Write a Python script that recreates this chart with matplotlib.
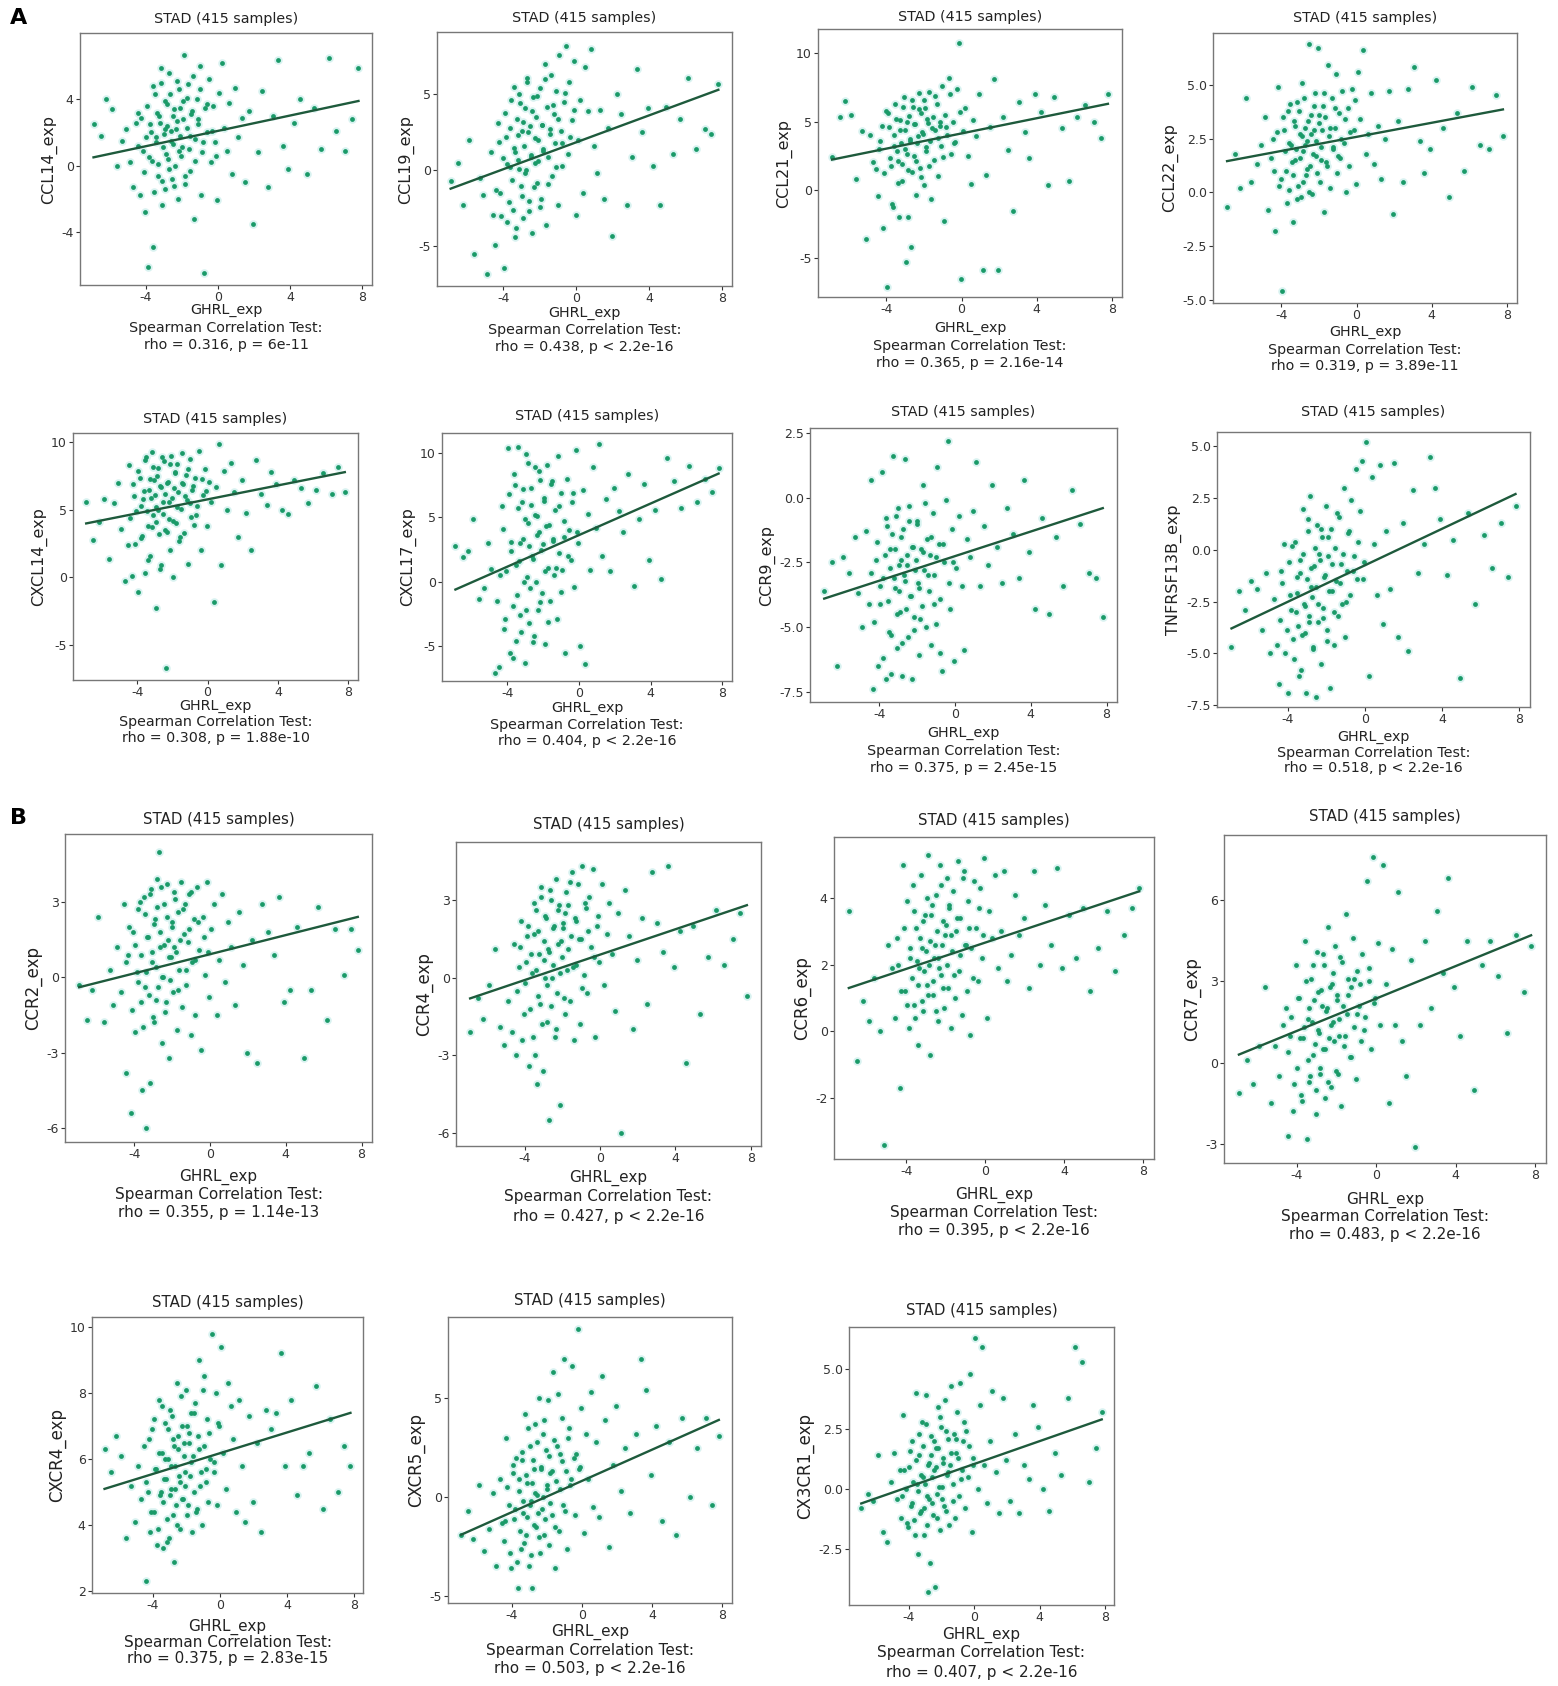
import matplotlib.pyplot as plt
import numpy as np

plt.rcParams['font.family'] = 'DejaVu Sans'
plt.rcParams['axes.unicode_minus'] = False

# GHRL expression (shared x for every panel, a readable subset of the 415 samples)
x_ghrl = [-6.9, -6.5, -6.2, -5.9, -5.6, -5.3, -5.1, -4.9, -4.7, -4.55,
          -4.45, -4.32, -4.18, -4.05, -3.97, -3.86, -3.78, -3.66, -3.58, -3.49,
          -3.41, -3.35, -3.27, -3.18, -3.12, -3.04, -2.96, -2.91, -2.83, -2.77,
          -2.69, -2.62, -2.55, -2.48, -2.41, -2.36, -2.28, -2.22, -2.15, -2.08,
          -2.02, -1.95, -1.88, -1.81, -1.74, -1.68, -1.61, -1.53, -1.47, -1.39,
          -1.32, -1.25, -1.17, -1.09, -1.02, -0.94, -0.86, -0.77, -0.69, -0.58,
          -0.47, -0.38, -0.26, -0.15, -0.04, 0.08, 0.21, 0.35, 0.48, 0.63,
          0.79, 0.95, 1.12, 1.31, 1.52, 1.74, 1.96, 2.21, 2.47, 2.76,
          3.05, 3.36, 3.62, 3.91, 4.23, 4.58, 4.94, 5.33, 5.72, 6.15,
          6.58, 7.05, 7.42, 7.8,
          -4.41, -4.26, -4.12, -3.93, -3.81, -3.71, -3.62, -3.53, -3.44, -3.38,
          -3.3, -3.22, -3.15, -3.08, -3.0, -2.93, -2.87, -2.8, -2.73, -2.66,
          -2.58, -2.51, -2.44, -2.32, -2.25, -2.18, -2.11, -1.98, -1.91, -1.84,
          -1.71, -1.57, -1.43, -1.28, -1.13, -0.98, -0.81, -0.63, -0.33, -0.1]

ccl14 = [2.5, 1.8, 4.0, 3.4, 0.0, 1.5, 2.2, 0.2, -1.3, 2.6,
         3.2, -1.8, 0.9, -2.8, 1.7, -6.1, 2.5, 0.3, -4.9, 4.3,
         1.4, -0.6, 3.0, 5.0, -2.4, 1.1, 2.2, -1.4, 3.7, 0.4,
         5.6, 2.1, -0.8, 1.3, 3.4, 0.0, 2.7, -2.0, 4.6, 1.8,
         0.6, 3.9, 6.7, -1.1, 2.3, 4.9, 1.0, -0.3, 3.1, 5.4,
         -3.2, 1.6, 4.0, 2.8, 6.0, -1.8, 0.8, -6.5, 3.5, 2.0,
         5.2, 0.2, 3.6, 1.4, -2.1, 4.4, 6.2, 2.3, 0.9, 3.8,
         -0.5, 4.7, 1.7, 2.9, -1.0, 3.3, -3.5, 0.8, 4.5, -1.3,
         3.0, 6.4, 1.2, -0.2, 2.6, 4.0, -0.5, 3.5, 1.0, 6.5,
         2.1, 0.9, 2.8, 5.9,
         1.2, 2.9, -0.4, 3.6, 0.5, 2.0, 4.8, -1.6, 1.7, 3.2,
         0.1, 2.6, 5.9, -0.9, 1.9, 3.9, 0.7, 2.4, -0.2, 4.3,
         1.5, 3.0, -1.2, 2.2, 5.1, 0.9, 3.5, 1.1, 2.8, -0.6,
         4.1, 1.8, 3.3, 0.3, 2.5, 4.6, 1.4, 3.7, 2.1, 0.6]
ccl19 = [-0.7, 0.5, -2.3, 2.0, -5.5, -0.5, -1.6, -6.8, 1.2, -2.9,
         -4.9, 3.1, -1.5, 0.8, -6.4, 2.2, -3.4, 0.2, 4.6, -2.6,
         1.5, -4.4, 3.4, 0.7, 5.0, -1.0, 2.6, -3.1, 4.1, 0.0,
         6.1, -2.0, 2.9, 1.0, -4.1, 4.8, 0.5, 3.5, -0.8, 2.0,
         5.4, -1.9, 3.0, 1.3, 7.0, -3.6, 4.2, 0.9, 2.4, 6.3,
         -0.4, 3.7, 1.8, 5.2, -2.3, 7.6, 2.6, 0.3, 4.5, 8.2,
         1.1, 5.8, 3.3, 7.2, -2.9, 2.0, 4.6, -1.5, 6.8, 3.9,
         8.0, 1.6, -0.2, 4.0, -1.9, 2.8, -4.3, 5.0, 3.7, -2.3,
         0.9, 6.7, 2.5, 4.1, 0.3, -2.3, 4.2, 1.1, 3.4, 6.1,
         1.4, 2.7, 2.4, 5.7,
         -1.3, 1.9, -3.0, 3.8, 0.4, -2.1, 2.8, -0.6, 5.5, 1.2,
         -3.8, 2.3, 0.1, 4.4, -1.7, 3.2, 1.6, -0.2, 5.8, 2.5,
         -2.7, 0.9, 3.9, -1.1, 2.1, 4.9, 0.6, -2.4, 3.0, 1.4,
         6.0, -0.9, 2.7, 4.3, 0.2, 3.4, 1.8, 5.1, 2.2, 4.0]
ccl21 = [2.4, 5.3, 6.5, 5.5, 0.8, 4.3, -3.6, 4.0, 2.0, 1.5,
         -0.5, 3.6, -2.8, 5.8, -7.2, 4.6, 1.7, -1.3, 3.2, 5.2,
         2.1, -2.0, 4.4, 0.6, 6.1, 3.0, -5.3, 5.0, 1.4, 3.7,
         -4.2, 6.6, 2.5, 4.8, -0.4, 3.4, 7.1, 1.6, 5.6, 4.1,
         0.3, 6.0, 2.8, 4.9, 7.2, 3.6, -0.7, 5.3, 2.2, 4.4,
         6.3, 1.0, 4.7, 3.2, 7.6, -2.3, 5.5, 4.0, 8.2, 2.6,
         5.0, 3.4, 7.4, 10.8, -6.6, 4.3, 6.0, 2.5, 0.4, 5.1,
         3.9, 7.0, -5.9, 1.1, 4.6, 8.1, -5.9, 5.3, 2.9, -1.6,
         6.4, 4.2, 2.3, 7.0, 5.7, 0.3, 6.8, 4.5, 0.6, 5.3,
         6.2, 5.0, 3.8, 7.0,
         3.0, 4.7, 1.2, 5.6, 2.3, -1.1, 4.0, 6.3, 2.8, 0.5,
         5.1, 3.4, 1.9, 6.8, 4.4, 2.6, -2.0, 5.4, 3.6, 1.3,
         6.1, 4.8, 2.1, 3.9, 5.9, 0.9, 4.2, 6.6, 3.1, 5.2,
         1.7, 4.5, 6.9, 3.8, 5.0, 2.4, 4.6, 7.0, 3.5, 5.7]
ccl22 = [-0.7, 1.8, 0.2, 4.4, 0.5, 1.3, 2.2, 3.5, -0.8, 1.6,
         2.5, -1.8, 4.9, 0.6, -4.6, 2.9, 1.0, 3.8, 0.1, 2.2,
         -1.4, 3.3, 1.5, 4.2, 0.3, 2.7, -0.2, 5.1, 1.9, 3.0,
         0.8, 2.4, 6.9, 1.2, 3.6, -0.1, 2.9, 4.6, 1.7, 6.7,
         3.2, 0.5, 2.1, 4.0, -0.9, 3.5, 1.4, 5.9, 2.6, 0.2,
         4.4, 2.0, 3.0, 5.5, 0.9, 3.7, 1.6, 4.7, 2.3, 0.0,
         3.9, 1.2, 4.8, 2.9, 0.4, 5.6, 3.4, 6.6, 1.8, 2.7,
         4.6, 1.3, 3.1, 0.6, 2.5, 4.7, -1.0, 3.3, 0.5, 4.8,
         5.8, 2.4, 0.9, 2.0, 5.2, 3.0, -0.2, 3.7, 1.0, 4.9,
         2.2, 2.0, 4.5, 2.6,
         1.0, 2.8, 0.3, 3.5, 1.9, -0.5, 2.3, 4.1, 1.4, 0.8,
         3.1, 2.0, -0.3, 3.8, 1.6, 2.6, 0.5, 4.4, 2.2, 1.1,
         3.3, 0.0, 2.7, 1.8, 4.0, 2.4, 0.9, 3.6, 1.5, 2.9,
         4.6, 1.2, 3.0, 2.1, 3.9, 1.7, 2.5, 3.4, 2.8, 4.3]
cxcl14 = [5.6, 2.8, 4.1, 5.8, 1.4, 5.5, 7.0, 3.6, -0.3, 2.4,
          8.3, 0.1, 6.0, 4.9, -1.1, 7.4, 2.9, 5.8, 0.3, 8.9,
          3.8, 6.5, 1.6, 9.3, 4.6, 7.2, -2.3, 5.2, 8.1, 3.2,
          6.8, 0.9, 5.6, 8.6, 3.5, -6.7, 7.0, 4.3, 2.0, 9.0,
          5.9, 0.0, 7.7, 4.0, 8.4, 6.3, 2.7, 5.1, 9.2, 6.9,
          3.3, 7.6, 5.7, 1.0, 8.8, 4.5, 6.5, 3.9, 7.4, 5.3,
          9.4, 2.0, 6.1, 8.0, 3.8, 7.1, 5.6, -1.8, 6.7, 9.9,
          0.9, 7.9, 5.0, 8.5, 6.3, 3.0, 7.2, 4.8, 2.0, 8.7,
          6.2, 5.4, 7.8, 6.9, 5.0, 4.7, 7.2, 6.6, 5.5, 6.5,
          7.7, 6.2, 8.2, 6.3,
          4.4, 6.9, 2.5, 7.9, 5.3, 3.1, 6.4, 8.7, 4.9, 1.3,
          7.3, 5.9, 3.7, 8.2, 6.1, 4.1, 7.5, 5.0, 0.6, 6.7,
          8.9, 4.7, 6.2, 3.4, 7.1, 5.6, 8.4, 4.2, 6.6, 7.8,
          5.2, 3.0, 7.0, 6.0, 8.0, 5.5, 6.8, 4.6, 7.3, 6.4]
cxcl17 = [2.8, 1.9, 2.4, 4.9, -1.3, -0.5, 3.0, 1.0, -7.1, -1.5,
          -6.6, 5.9, -3.7, 0.8, 10.4, -5.5, 3.1, -1.9, 7.5, -4.6,
          10.5, 1.6, -2.6, 6.2, 3.3, -6.3, 9.9, 0.4, 4.6, -3.2,
          7.3, 2.0, -4.7, 8.9, 0.0, 5.1, -2.2, 3.9, 7.9, -0.9,
          2.9, 6.3, -4.8, 9.1, 1.1, 4.4, -1.5, 7.8, 3.2, 0.5,
          5.6, -2.9, 9.8, 2.2, 6.9, 0.9, 3.5, -5.5, 8.0, 4.0,
          1.7, 6.2, -0.4, 10.2, 3.0, -5.0, 7.1, -6.4, 5.3, 0.9,
          8.9, 4.2, 10.7, 2.0, 6.4, 0.8, 7.3, 5.5, 3.9, 8.4,
          -0.3, 4.9, 7.6, 1.7, 5.6, 0.2, 9.6, 7.8, 5.7, 9.0,
          6.2, 8.0, 7.0, 8.8,
          0.5, 4.1, -2.9, 6.8, 2.4, -5.9, 8.4, 1.3, -1.0, 5.7,
          3.0, -3.9, 7.2, 0.0, 4.9, -2.2, 9.2, 2.8, -0.5, 6.0,
          1.8, -4.2, 5.2, 3.6, 8.6, -1.6, 2.5, 6.5, 0.8, 4.3,
          -3.1, 7.6, 3.3, 1.1, 5.9, -0.8, 4.7, 2.0, 6.9, 3.9]
ccr9 = [-3.6, -2.5, -6.5, -2.3, -2.9, -1.5, -3.7, -5.0, -1.3, -4.1,
        0.7, -7.4, -2.4, -6.5, -4.1, 1.0, -3.1, -7.0, -1.1, -5.2,
        -2.0, -6.8, 1.6, -3.5, -0.7, -5.8, -2.6, -4.4, -1.5, -6.9,
        -3.0, 1.5, -2.2, -5.4, -0.3, -3.8, -7.0, -1.9, -4.6, -2.4,
        -0.9, -3.3, -6.1, -2.0, -4.2, 0.5, -2.8, -5.0, -1.6, -3.6,
        -2.2, -5.7, -0.6, -3.0, -4.9, 1.2, -1.8, -3.9, -6.7, -2.5,
        -0.1, 2.2, -4.3, -1.2, -6.3, -2.7, -0.7, -3.4, -5.9, -1.6,
        -2.3, -0.5, 1.4, -3.4, -1.1, -2.6, 0.5, -1.9, -3.3, -0.4,
        -1.4, -3.1, 0.7, -2.1, -4.3, -0.8, -4.5, -1.5, -3.4, 0.3,
        -1.0, -2.9, -3.1, -4.6,
        -2.9, -4.8, -1.7, -3.4, -6.2, -2.2, -0.8, -4.0, -2.7, -5.3,
        -1.4, -3.1, -2.0, -4.5, -0.4, -3.6, -2.4, -5.6, -1.2, -3.2,
        -4.3, -2.6, -0.9, -3.8, -1.9, -5.1, -2.8, -1.0, -3.5, -4.7,
        -2.1, -0.2, -3.0, -1.5, -4.1, -2.3, -6.0, -1.8, -3.3, -2.5]
tnfrsf13b = [-4.7, -2.0, -2.9, -1.5, -1.9, -3.9, -1.1, -5.0, -2.4, -4.6,
             -6.5, -1.0, 0.3, -3.9, -6.9, -2.2, 0.2, -5.3, -3.0, -1.3,
             -6.1, -0.5, -4.1, 2.0, -2.7, -6.9, 0.9, -3.5, 2.6, -1.8,
             -4.7, -0.8, -7.1, 1.2, -2.6, -0.2, -5.5, 0.6, -3.3, -1.2,
             2.1, -3.9, -0.3, -6.7, 1.0, -2.0, -4.6, 0.1, -1.5, -3.2,
             1.6, -0.7, -2.6, 3.0, -4.2, -1.0, 0.8, -2.2, 2.4, -0.3,
             3.9, -1.4, 1.9, 4.3, -0.6, 5.2, -6.1, 3.5, 0.3, -2.2,
             4.1, -3.6, 0.9, -1.9, 4.2, -4.2, 1.3, -4.9, 2.9, -1.1,
             0.3, 4.5, 3.0, 1.5, -1.2, 0.5, -6.2, 1.8, -2.6, 0.7,
             -0.9, 1.3, -1.3, 2.1,
             -3.4, -1.6, -5.0, -0.6, -2.9, -4.3, 0.4, -2.1, -3.7, -1.1,
             -5.8, -0.2, -2.6, -4.0, -1.4, 1.5, -3.2, -0.9, -2.3, -4.8,
             0.1, -1.8, -3.5, -0.5, 1.0, -2.8, -1.3, -4.4, 0.6, -2.0,
             -0.7, -3.0, 1.8, -1.6, -0.2, -2.5, 0.9, -1.0, 0.4, -1.4]
ccr2 = [-0.3, -1.7, -0.5, 2.4, -1.8, 0.3, -1.1, 1.2, -0.6, 2.9,
        -3.8, 0.9, -5.4, 1.8, -2.2, 0.2, 2.7, -1.0, -4.5, 3.2,
        -0.4, -6.0, 1.6, -4.2, 3.5, 0.6, -1.8, 2.3, -0.9, 3.9,
        5.0, 1.2, -2.6, 0.0, 2.9, -1.4, 3.7, 1.5, -3.2, 0.8,
        2.2, -0.6, 3.4, 1.0, -2.1, 2.6, 0.3, 3.8, -1.2, 1.7,
        2.9, -0.3, 1.4, 3.3, -2.3, 0.6, 2.3, -1.5, 3.6, 1.1,
        -2.9, 2.4, 0.1, 3.8, -0.8, 1.9, 2.9, -1.5, 0.7, 3.3,
        -0.2, 2.2, 1.2, -1.1, 2.6, 0.5, -3.0, 1.5, -3.4, 2.9,
        1.8, 0.9, 3.2, -1.0, -0.5, 2.0, -3.2, -0.5, 2.8, -1.7,
        1.9, 0.1, 1.9, 1.1,
        0.6, 2.0, -1.3, 1.3, -0.2, 3.0, 0.9, -2.0, 2.5, 0.2,
        1.6, -0.7, 3.3, 1.0, -1.6, 2.1, 0.4, 2.8, -0.4, 1.8,
        3.6, 0.0, 1.3, -1.0, 2.4, 0.8, -0.1, 2.0, 1.2, 3.1,
        -0.5, 1.5, 2.7, 0.3, 1.9, 3.4, 0.7, 2.2, 1.6, 1.0]
ccr4 = [-2.1, -0.8, -1.6, -0.3, 1.1, -1.9, -2.6, -0.9, -2.1, 1.3,
        -3.0, 0.4, 2.2, -1.4, -0.2, 1.6, -3.4, 0.9, -2.3, 2.9,
        0.3, -4.1, 1.8, -1.0, 3.5, -3.6, 0.7, 2.4, -1.7, 1.1,
        -5.5, 3.0, 0.0, 1.9, -2.3, 3.8, -0.6, 2.6, -4.9, 1.4,
        0.8, 2.1, -1.4, 3.3, 0.3, 2.8, -0.9, 1.6, 4.1, -2.4,
        2.3, 0.5, 3.6, -1.8, 1.5, 4.3, 0.1, 2.7, -0.6, 3.1,
        1.2, 4.2, -2.3, 2.0, 0.6, 3.6, -0.3, 1.7, 2.9, 0.9,
        -1.3, 2.5, -6.0, 3.4, 1.6, -2.0, 0.7, 2.3, -1.0, 4.1,
        2.1, 1.0, 4.3, 0.4, 1.8, -3.3, 2.0, -1.4, 0.8, 2.6,
        0.5, 1.5, 2.5, -0.7,
        -0.5, 1.2, -2.4, 0.6, 2.0, -1.2, 0.2, 1.7, -3.0, 2.6,
        -0.7, 0.9, 3.1, -1.8, 1.4, 0.0, 2.3, -0.3, 1.0, 3.4,
        -1.1, 0.5, 2.0, -2.0, 1.3, 2.8, 0.2, 1.9, -0.8, 2.5,
        1.1, 3.7, 0.4, 2.2, 1.5, -0.4, 2.9, 1.8, 0.8, 2.4]
ccr6 = [3.6, -0.9, 0.9, 0.3, 1.6, 0.0, -3.4, 2.6, 1.9, 0.4,
        2.8, -1.7, 5.0, 1.2, 3.9, 0.1, 2.2, 4.4, 0.8, 3.1,
        -0.4, 1.9, 4.7, 2.5, 0.6, 3.5, 1.4, 5.3, 2.0, -0.7,
        3.8, 1.1, 2.6, 4.1, 0.3, 2.2, 5.0, 1.7, 3.3, 0.7,
        2.9, 4.6, 1.3, 3.7, 0.1, 2.4, 4.2, 1.0, 3.0, 5.1,
        1.8, 3.4, 0.5, 4.8, 2.6, 1.2, 3.9, -0.1, 2.5, 4.5,
        3.1, 1.5, 4.3, 2.2, 5.2, 0.4, 3.6, 2.8, 4.7, 1.9,
        3.0, 4.8, 1.5, 2.3, 4.1, 2.9, 3.4, 1.3, 4.8, 2.0,
        3.8, 2.6, 4.9, 1.9, 3.5, 2.2, 3.7, 1.2, 2.5, 3.6,
        1.8, 2.9, 3.7, 4.3,
        2.0, 1.2, 3.1, 0.8, 2.5, 1.6, 3.6, 0.4, 2.1, 1.4,
        2.8, 0.9, 3.3, 1.8, 2.4, 4.0, 1.1, 2.7, 3.5, 1.5,
        2.2, 0.6, 3.0, 1.9, 4.4, 2.6, 1.3, 3.2, 2.0, 3.8,
        2.9, 1.7, 3.4, 2.3, 4.6, 2.6, 3.1, 1.6, 3.7, 2.9]
ccr7 = [-1.1, 0.1, -0.8, 0.6, 2.8, -1.5, 0.6, -0.5, 1.4, 2.0,
        -2.7, 1.0, -1.8, 3.6, -0.2, 2.4, -1.2, 0.9, 4.5, -2.8,
        1.6, -0.7, 3.1, 0.3, 2.3, -1.9, 4.1, 1.2, -0.4, 2.7,
        0.5, 3.6, -1.3, 2.0, 5.0, 0.9, -0.9, 2.9, 1.5, 4.3,
        -0.3, 2.5, 1.0, 3.9, -1.6, 2.1, 0.6, 5.5, 1.8, 3.1,
        0.2, 2.8, 4.6, 1.3, -0.6, 3.4, 2.1, 0.8, 4.0, 1.7,
        6.7, 3.0, 0.5, 7.6, 2.4, 4.4, 1.4, 7.3, 2.9, -1.5,
        4.2, 1.4, 6.3, 0.8, -0.5, 3.8, -3.1, 1.4, 4.5, 2.0,
        5.6, 3.3, 6.8, 2.8, 1.0, 4.5, -1.0, 3.6, 4.5, 3.2,
        1.1, 4.7, 2.6, 4.3,
        0.4, 1.7, -0.8, 2.4, 0.9, -1.4, 1.3, 3.0, 0.1, 2.0,
        -0.5, 1.5, 3.6, 0.7, -1.0, 2.6, 1.1, -0.2, 2.1, 4.0,
        0.5, 1.9, -0.7, 2.8, 1.4, 3.3, 0.8, 2.3, -0.4, 1.6,
        3.7, 1.0, 2.5, 0.2, 3.1, 1.8, 2.9, 1.2, 3.5, 2.2]
cxcr4 = [6.3, 5.6, 6.7, 6.1, 3.6, 5.2, 4.1, 5.8, 4.8, 6.4,
         2.3, 5.0, 3.8, 6.9, 4.4, 5.7, 3.4, 7.8, 4.9, 6.2,
         3.3, 5.4, 7.1, 4.2, 6.0, 3.6, 7.5, 5.1, 6.6, 2.9,
         5.8, 4.6, 8.3, 6.3, 3.9, 5.3, 7.0, 4.8, 6.5, 5.6,
         8.1, 4.3, 6.8, 5.5, 7.4, 3.8, 6.1, 5.0, 7.7, 4.5,
         6.7, 9.0, 5.2, 4.0, 8.1, 6.4, 5.7, 7.2, 4.7, 6.0,
         9.8, 5.6, 8.0, 4.6, 7.0, 9.4, 6.2, 5.1, 8.3, 7.6,
         6.6, 4.4, 7.8, 5.8, 4.1, 7.3, 4.7, 6.5, 3.8, 7.5,
         6.9, 7.4, 9.2, 5.8, 7.8, 4.9, 5.8, 6.2, 8.2, 4.5,
         7.2, 5.0, 6.4, 5.8,
         5.3, 6.6, 4.4, 7.2, 5.7, 3.9, 6.2, 5.0, 7.6, 4.7,
         6.0, 5.4, 3.5, 6.9, 4.9, 5.8, 7.3, 4.3, 6.4, 5.1,
         4.0, 6.7, 5.5, 7.9, 4.8, 6.1, 5.2, 7.0, 4.6, 6.5,
         5.9, 7.4, 4.4, 6.3, 5.6, 8.5, 5.3, 6.8, 5.9, 7.1]
cxcr5 = [-1.9, -0.7, -2.1, 0.6, -2.7, -1.6, 0.2, -3.5, 0.9, -1.3,
         -2.2, 3.0, -0.4, -3.6, 1.2, -1.1, 2.0, -4.6, 0.3, -2.6,
         1.9, -0.8, 4.2, -1.9, 0.7, -3.5, 2.6, -0.2, -4.6, 1.4,
         3.7, -1.5, 0.1, 5.0, -2.8, 1.5, -0.6, 3.2, -1.9, 2.4,
         0.4, 4.9, -2.4, 1.2, -0.9, 6.3, 2.9, -3.6, 0.8, 5.2,
         -1.7, 2.2, 4.0, -0.4, 7.0, 1.3, -2.6, 3.5, 0.6, 6.6,
         2.0, -0.9, 8.5, 1.4, 4.5, -1.8, 3.2, 0.9, 5.3, -0.5,
         2.8, -1.0, 6.1, 3.9, -2.5, 1.6, 4.6, 0.3, 2.5, -0.8,
         3.2, 7.0, 5.4, 1.1, 3.6, -1.2, 2.8, -1.9, 4.0, 0.0,
         2.5, 4.0, -0.4, 3.1,
         -1.2, 0.5, -2.8, 1.6, -0.6, -3.3, 0.9, -1.7, 2.3, -0.2,
         -2.3, 1.1, -1.0, 3.5, -0.4, -2.9, 0.7, 1.9, -1.4, 0.2,
         2.8, -0.8, -2.0, 1.4, 0.0, 3.9, -1.1, 0.6, 2.1, -0.3,
         1.3, -1.5, 2.6, 0.4, 1.8, -0.7, 3.0, 0.9, 2.2, 1.5]
cx3cr1 = [-0.8, -0.2, -0.5, 1.4, -1.8, -2.2, 0.3, 1.5, -0.4, 0.8,
          -1.2, 3.1, 0.0, -1.6, 0.9, -0.7, 2.0, -1.3, 4.0, 0.2,
          -2.7, 1.4, -0.9, 2.8, 0.5, -1.9, 3.9, -0.3, -4.3, 1.1,
          -3.1, 2.2, -0.6, 0.8, -4.1, 1.7, -1.2, 3.4, 0.1, -1.7,
          2.6, -0.4, 1.3, 3.7, -0.9, 0.6, 2.1, -1.5, 1.0, 4.3,
          0.2, 2.3, -1.2, 1.5, 3.2, -0.3, 4.4, 0.8, 2.0, -0.8,
          2.4, 0.5, 4.8, -1.8, 1.3, 6.3, 0.0, 3.5, 5.9, 1.0,
          -0.6, 2.0, 4.1, 0.7, -1.0, 3.8, 1.2, -0.5, 2.3, -1.0,
          1.0, 0.4, 3.5, 2.6, 0.0, -0.9, 1.5, 0.6, 3.8, 5.9,
          5.3, 0.3, 1.7, 3.2,
          -0.3, 0.8, -1.4, 1.6, -0.6, 0.3, -1.9, 1.2, -0.1, 2.3,
          -1.0, 0.6, 1.8, -0.8, 0.2, 2.7, -1.5, 1.0, -0.4, 1.4,
          0.5, -1.1, 2.0, 0.9, -0.2, 1.7, 3.0, 0.1, 1.1, -0.7,
          2.4, 0.7, 1.5, -0.5, 2.1, 1.3, 0.4, 2.8, 1.8, 1.0]

genes = ['CCL14', 'CCL19', 'CCL21', 'CCL22',
         'CXCL14', 'CXCL17', 'CCR9', 'TNFRSF13B',
         'CCR2', 'CCR4', 'CCR6', 'CCR7',
         'CXCR4', 'CXCR5', 'CX3CR1']
y_series = [ccl14, ccl19, ccl21, ccl22,
            cxcl14, cxcl17, ccr9, tnfrsf13b,
            ccr2, ccr4, ccr6, ccr7,
            cxcr4, cxcr5, cx3cr1]
stats = ['rho = 0.316, p = 6e-11', 'rho = 0.438, p < 2.2e-16',
         'rho = 0.365, p = 2.16e-14', 'rho = 0.319, p = 3.89e-11',
         'rho = 0.308, p = 1.88e-10', 'rho = 0.404, p < 2.2e-16',
         'rho = 0.375, p = 2.45e-15', 'rho = 0.518, p < 2.2e-16',
         'rho = 0.355, p = 1.14e-13', 'rho = 0.427, p < 2.2e-16',
         'rho = 0.395, p < 2.2e-16', 'rho = 0.483, p < 2.2e-16',
         'rho = 0.375, p = 2.83e-15', 'rho = 0.503, p < 2.2e-16',
         'rho = 0.407, p < 2.2e-16']
# regression line value at the lowest and highest GHRL_exp
fit_left = [0.5, -1.2, 2.2, 1.45, 4.0, -0.6, -3.9, -3.8,
            -0.4, -0.8, 1.3, 0.3, 5.1, -1.9, -0.6]
fit_right = [3.9, 5.3, 6.3, 3.85, 7.8, 8.4, -0.4, 2.7,
             2.4, 2.8, 4.2, 4.7, 7.4, 3.9, 2.9]
y_ticks = [[-4, 0, 4], [-5, 0, 5], [-5, 0, 5, 10], [-5, -2.5, 0, 2.5, 5],
           [-5, 0, 5, 10], [-5, 0, 5, 10], [-7.5, -5, -2.5, 0, 2.5], [-7.5, -5, -2.5, 0, 2.5, 5],
           [-6, -3, 0, 3], [-6, -3, 0, 3], [-2, 0, 2, 4], [-3, 0, 3, 6],
           [2, 4, 6, 8, 10], [-5, 0, 5], [-2.5, 0, 2.5, 5]]
x_ticks = [-4, 0, 4, 8]

# layout in pixels: left, top, right, bottom, title y, three caption lines y
W, H = 1558, 1686
boxes = [(80, 33, 372, 285, 19, 310, 328, 345),
         (437, 32, 732, 286, 18, 313, 330, 347),
         (818, 29, 1122, 297, 17, 328, 346, 363),
         (1213, 33, 1517, 303, 18, 332, 350, 366),
         (73, 433, 358, 680, 419, 706, 722, 738),
         (442, 433, 732, 681, 416, 708, 725, 741),
         (810, 428, 1117, 702, 412, 733, 751, 768),
         (1217, 432, 1530, 707, 412, 737, 753, 768),
         (65, 834, 372, 1142, 819, 1177, 1195, 1213),
         (456, 842, 761, 1146, 824, 1178, 1197, 1216),
         (834, 837, 1154, 1159, 820, 1195, 1212, 1230),
         (1224, 835, 1546, 1163, 817, 1200, 1217, 1235),
         (92, 1317, 363, 1593, 1302, 1627, 1643, 1658),
         (448, 1317, 732, 1603, 1301, 1632, 1650, 1668),
         (849, 1327, 1114, 1605, 1311, 1635, 1653, 1672)]
y_limits = [(-7.2, 8.0), (-7.6, 9.1), (-7.9, 11.8), (-5.14, 7.4),
            (-7.6, 10.7), (-7.7, 11.55), (-7.9, 2.7), (-7.6, 5.7),
            (-6.56, 5.7), (-6.5, 5.24), (-3.83, 5.83), (-3.7, 8.4),
            (1.95, 10.3), (-5.35, 9.1), (-4.83, 6.75)]

fig = plt.figure(figsize=(W / 100, H / 100), dpi=100)

for i, gene in enumerate(genes):
    L, T, R, B, ty, c1, c2, c3 = boxes[i]
    part_b = i >= 8
    ax = fig.add_axes([L / W, 1 - B / H, (R - L) / W, (B - T) / H])
    ax.scatter(x_ghrl, y_series[i], s=38, color='#d8f2f0', linewidths=0, zorder=1)
    ax.scatter(x_ghrl, y_series[i], s=12, color='#1a9a68', linewidths=0, zorder=2)
    ax.plot([min(x_ghrl), max(x_ghrl)], [fit_left[i], fit_right[i]],
            color='#1e5a3c', lw=1.7, zorder=3)
    ax.set_xlim(-7.65, 8.55)
    ax.set_ylim(*y_limits[i])
    ax.set_xticks(x_ticks)
    ax.set_yticks(y_ticks[i])
    ax.tick_params(labelsize=9, length=3, width=0.8, colors='#333333', pad=1.5)
    for sp in ax.spines.values():
        sp.set_color('#777777')
        sp.set_linewidth(1.0)
    ax.set_ylabel(gene + '_exp', fontsize=12 if part_b else 11.5,
                  color='#222222', labelpad=3)

    cx = (L + R) / 2 / W
    cap = 11 if part_b else 10.3
    fig.text(cx, 1 - ty / H, 'STAD (415 samples)', ha='center', va='center',
             fontsize=10.8 if part_b else 10.3, color='#222222')
    fig.text(cx, 1 - c1 / H, 'GHRL_exp', ha='center', va='center',
             fontsize=cap, color='#222222')
    fig.text(cx, 1 - c2 / H, 'Spearman Correlation Test:', ha='center', va='center',
             fontsize=cap, color='#222222')
    fig.text(cx, 1 - c3 / H, stats[i], ha='center', va='center',
             fontsize=cap, color='#222222')

fig.text(10 / W, 1 - 18 / H, 'A', fontsize=16, fontweight='bold', va='center', ha='left')
fig.text(10 / W, 1 - 818 / H, 'B', fontsize=16, fontweight='bold', va='center', ha='left')

plt.savefig('out.png', dpi=100)
